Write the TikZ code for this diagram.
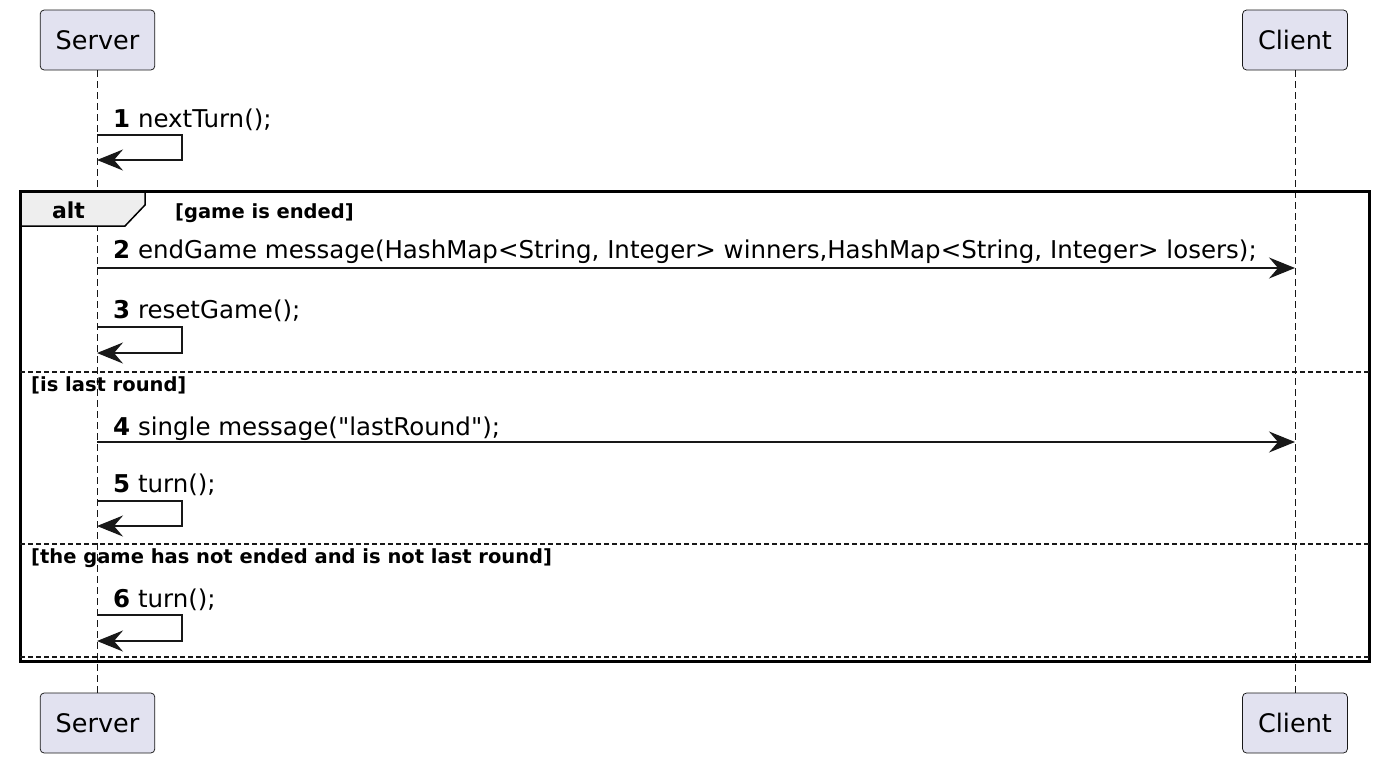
\documentclass[tikz,border=0pt]{standalone}
\usepackage{fontspec}
\setmainfont{DejaVu Sans}
\newfontfamily\msgfont{DejaVu Sans}
\usetikzlibrary{arrows.meta}
\definecolor{actorfill}{HTML}{E2E2F0}
\definecolor{linegray}{HTML}{181818}
\definecolor{tabfill}{HTML}{EEEEEE}

\begin{document}
\begin{tikzpicture}
[every node/.style={inner sep=0pt},
 actor/.style={rectangle, rounded corners=4pt, fill=actorfill, draw=linegray, line width=0.75pt, minimum height=60pt, inner xsep=15.5pt, font=\fontsize{25.5}{30}\selectfont},
 msglabel/.style={anchor=base west, font=\msgfont\fontsize{24.5}{29}\selectfont},
 guard/.style={anchor=base west, font=\bfseries\fontsize{19.5}{23}\selectfont},
 lifeline/.style={line width=0.75pt, color=linegray, dash pattern=on 7pt off 4pt},
 msg/.style={line width=1.5pt, color=linegray, -{Stealth[length=26pt, width=21pt, inset=9pt]}},
 separator/.style={line width=1.2pt, color=linegray, dash pattern=on 5pt off 3pt}]
\useasboundingbox (0pt, 0pt) rectangle (1381pt, -764pt);
\node (srvTop) [actor] at (97.5pt, -40pt) {Server};
\node (cliTop) [actor] at (1295pt, -40pt) {Client};
\node (srvBot) [actor] at (97.5pt, -723pt) {Server};
\node (cliBot) [actor] at (1295pt, -723pt) {Client};
\draw [lifeline] (srvTop) -- (srvBot);
\draw [lifeline] (cliTop) -- (cliBot);
% self call before the alt block
\node (l1) [msglabel] at (113pt, -127pt) {\textbf{1} nextTurn();};
\coordinate (s1) at (97pt, -135pt);
\coordinate (e1) at (97pt, -160pt);
\draw [msg] (s1) -- ++(85pt, 0pt) -- ++(0pt, -25pt) -- (e1);
% alt frame
\draw [fill=tabfill, draw=black, line width=1.5pt] (20pt, -191pt) -- (145pt, -191pt) -- (145pt, -205pt) -- (125pt, -226pt) -- (20pt, -226pt) -- cycle;
\draw [draw=black, line width=3pt] (20pt, -191pt) rectangle (1369pt, -661pt);
\node (alt) [anchor=base, font=\bfseries\fontsize{22}{26}\selectfont] at (68.5pt, -218pt) {alt};
\node (g1) [guard] at (175pt, -218pt) {[game is ended]};
\node (l2) [msglabel] at (113pt, -258pt) {\textbf{2} endGame message(HashMap<String, Integer> winners,HashMap<String, Integer> losers);};
\coordinate (s2) at (97pt, -268pt);
\coordinate (e2) at (1295pt, -268pt);
\draw [msg] (s2) -- (e2);
\node (l3) [msglabel] at (113pt, -318pt) {\textbf{3} resetGame();};
\coordinate (s3) at (97pt, -327pt);
\coordinate (e3) at (97pt, -353pt);
\draw [msg] (s3) -- ++(85pt, 0pt) -- ++(0pt, -26pt) -- (e3);
\draw [separator] (20pt, -372pt) -- (1369pt, -372pt);
\node (g2) [guard] at (31pt, -391pt) {[is last round]};
\node (l4) [msglabel] at (113pt, -435pt) {\textbf{4} single message("lastRound");};
\coordinate (s4) at (97pt, -442pt);
\coordinate (e4) at (1295pt, -442pt);
\draw [msg] (s4) -- (e4);
\node (l5) [msglabel] at (113pt, -492pt) {\textbf{5} turn();};
\coordinate (s5) at (97pt, -501pt);
\coordinate (e5) at (97pt, -526pt);
\draw [msg] (s5) -- ++(85pt, 0pt) -- ++(0pt, -25pt) -- (e5);
\draw [separator] (20pt, -544pt) -- (1369pt, -544pt);
\node (g3) [guard] at (31pt, -563pt) {[the game has not ended and is not last round]};
\node (l6) [msglabel] at (113pt, -607pt) {\textbf{6} turn();};
\coordinate (s6) at (97pt, -615pt);
\coordinate (e6) at (97pt, -641pt);
\draw [msg] (s6) -- ++(85pt, 0pt) -- ++(0pt, -26pt) -- (e6);
\draw [separator] (20pt, -657pt) -- (1369pt, -657pt);
\end{tikzpicture}
\end{document}
